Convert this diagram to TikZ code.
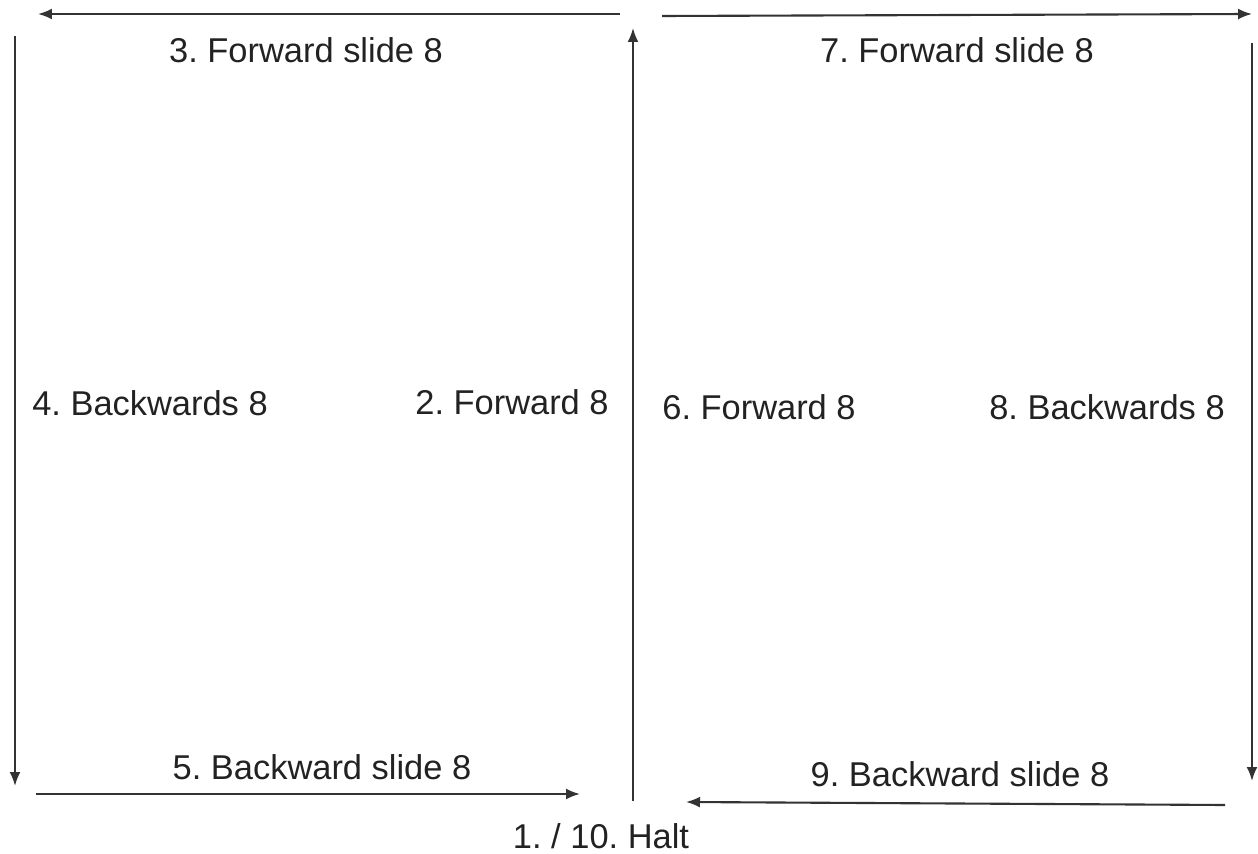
\documentclass[tikz,border=0pt]{standalone}
\usepackage{fontspec}
\setmainfont{Liberation Sans}
\frenchspacing
\usetikzlibrary{arrows.meta}
\definecolor{dnInk}{HTML}{222222}
\definecolor{dnLine}{HTML}{333333}
\tikzset{
  dn diagram/.style={font=\fontsize{19.6}{23.5}\selectfont, text=dnInk},
  dn move/.style={-{Latex[length=0.28cm,width=0.22cm]}, draw=dnLine, line width=1.2pt},
  dn label/.style={inner sep=0pt, anchor=center}
}
\begin{document}
\begin{tikzpicture}[dn diagram,x=0.02cm,y=-0.02cm]
\useasboundingbox (0,0) rectangle (1258,854);
% end points of the moves
\coordinate (fsl a) at (620,14);   \coordinate (fsl b) at (38,14);
\coordinate (bwl a) at (15,36);    \coordinate (bwl b) at (15,786);
\coordinate (bsl a) at (36,794);   \coordinate (bsl b) at (580,794);
\coordinate (fwc a) at (633,801);  \coordinate (fwc b) at (633,28);
\coordinate (fsr a) at (662,16);   \coordinate (fsr b) at (1252,14);
\coordinate (bwr a) at (1252,43);  \coordinate (bwr b) at (1252,781);
\coordinate (bsr a) at (1225,805); \coordinate (bsr b) at (686,802);
% moves
\draw[dn move] (fsl a) -- (fsl b);
\draw[dn move] (bwl a) -- (bwl b);
\draw[dn move] (bsl a) -- (bsl b);
\draw[dn move] (fwc a) -- (fwc b);
\draw[dn move] (fsr a) -- (fsr b);
\draw[dn move] (bwr a) -- (bwr b);
\draw[dn move] (bsr a) -- (bsr b);
% labels
\node[dn label] (step3) at (306,50) {3. Forward slide 8};
\node[dn label] (step7) at (957,50) {7. Forward slide 8};
\node[dn label] (step4) at (150,403) {4. Backwards 8};
\node[dn label] (step2) at (512,402) {2. Forward 8};
\node[dn label] (step6) at (759,407) {6. Forward 8};
\node[dn label] (step8) at (1107,407) {8. Backwards 8};
\node[dn label] (step5) at (322,767) {5. Backward slide 8};
\node[dn label] (step9) at (960,774) {9. Backward slide 8};
\node[dn label] (halt) at (601,836) {1. / 10. Halt};
\end{tikzpicture}
\end{document}
